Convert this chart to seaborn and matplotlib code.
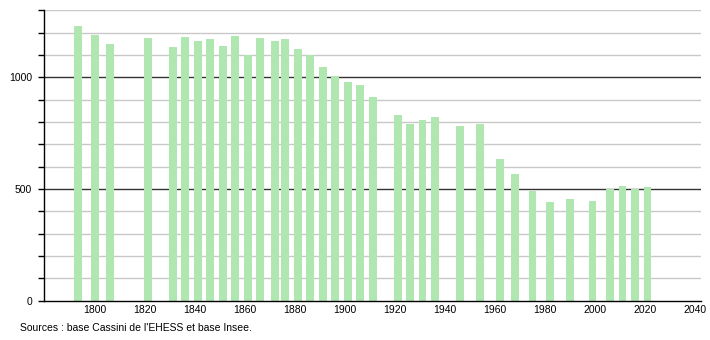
import matplotlib
matplotlib.use("Agg")
import matplotlib.pyplot as plt
from matplotlib.ticker import MultipleLocator
import seaborn as sns
import pandas as pd

years = [1793, 1800, 1806, 1821, 1831, 1836, 1841, 1846, 1851, 1856, 1861, 1866,
         1872, 1876, 1881, 1886, 1891, 1896, 1901, 1906, 1911, 1921, 1926, 1931,
         1936, 1946, 1954, 1962, 1968, 1975, 1982, 1990, 1999, 2006, 2011, 2016, 2021]
population = [1231, 1189, 1150, 1176, 1136, 1180, 1163, 1171, 1140, 1185, 1098, 1176,
              1162, 1171, 1127, 1100, 1046, 1006, 980, 965, 912, 830, 791, 810,
              822, 782, 791, 634, 566, 491, 441, 455, 446, 500, 513, 500, 508]
x_ticks = [1800, 1820, 1840, 1860, 1880, 1900, 1920, 1940, 1960, 1980, 2000, 2020, 2040]
y_ticks = [0, 500, 1000]
source_text = "Sources : base Cassini de l'EHESS et base Insee."

sns.set_theme(style="white")
plt.rcParams['font.family'] = ['Liberation Sans', 'DejaVu Sans']

df = pd.DataFrame({"year": years, "population": population})

fig = plt.figure(figsize=(7.1, 3.4), dpi=100)
ax = fig.add_axes([44 / 710, (340 - 300.6) / 340, (701 - 44) / 710, (300.6 - 10.3) / 340])

sns.barplot(data=df, x="year", y="population", native_scale=True, width=0.8,
            color="#b0e6b0", saturation=1, edgecolor="none", ax=ax, zorder=3)

ax.set_xlim(1779.6, 2042.4)
ax.set_ylim(0, 1300)
ax.set_xticks(x_ticks)
ax.set_xticklabels([str(t) for t in x_ticks])
ax.set_yticks(y_ticks)
ax.set_yticklabels([str(t) for t in y_ticks])
ax.yaxis.set_minor_locator(MultipleLocator(100))

ax.grid(False)
ax.grid(which="minor", axis="y", color="#c8c8c8", linewidth=1, zorder=0)
for v in [500, 1000]:
    ax.axhline(v, color="#333333", linewidth=1, zorder=1)

ax.set_xlabel("")
ax.set_ylabel("")
for s in ["top", "right"]:
    ax.spines[s].set_visible(False)
for s in ["left", "bottom"]:
    ax.spines[s].set_color("black")
    ax.spines[s].set_linewidth(1)
    ax.spines[s].set_zorder(4)

ax.tick_params(axis="x", which="both", length=0, pad=3, labelsize=7.5, colors="black")
ax.tick_params(axis="y", which="both", left=True, direction="out", length=4, width=1,
               color="black", pad=4.5, labelsize=7.5, labelcolor="black")

fig.text(20 / 710, (340 - 328) / 340, source_text, fontsize=7.5, color="black",
         va="center", ha="left")

fig.savefig("out.png", dpi=100)
